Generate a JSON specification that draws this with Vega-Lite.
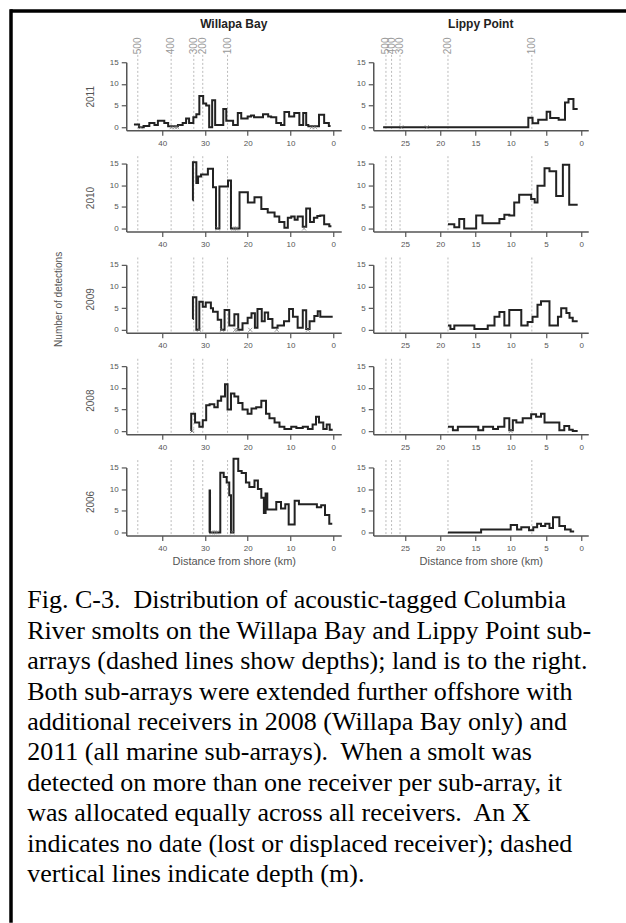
{
  "$schema": "https://vega.github.io/schema/vega-lite/v6.json",
  "background": "white",
  "padding": {"left": 8, "top": 8, "right": 0, "bottom": 0},
  "datasets": {
    "depthW": [{"km": 45.7, "depth": "500"}, {"km": 37.9, "depth": "400"}, {"km": 32.6, "depth": "300"}, {"km": 30.5, "depth": "200"}, {"km": 24.7, "depth": "100"}],
    "depthL": [{"km": 27.7, "depth": "500"}, {"km": 26.9, "depth": "400"}, {"km": 25.7, "depth": "300"}, {"km": 18.9, "depth": "200"}, {"km": 7.0, "depth": "100"}],
    "W2011": [{"km":46.6,"n":0.6},{"km":45.4,"n":0},{"km":44.3,"n":0.3},{"km":43.0,"n":1.0},{"km":41.8,"n":0.5},{"km":41.0,"n":1.5},{"km":39.5,"n":1.0},{"km":38.6,"n":0.2},{"km":36.3,"n":0.5},{"km":35.2,"n":1.0},{"km":34.4,"n":2.0},{"km":33.7,"n":1.0},{"km":32.7,"n":2.3},{"km":32.0,"n":3.0},{"km":31.3,"n":7.2},{"km":30.4,"n":5.5},{"km":29.7,"n":5.0},{"km":29.0,"n":0},{"km":28.3,"n":6.2},{"km":27.6,"n":0.5},{"km":25.7,"n":4.2},{"km":25.0,"n":1.5},{"km":23.4,"n":0.5},{"km":22.3,"n":3.3},{"km":21.5,"n":2.0},{"km":20.0,"n":2.5},{"km":19.2,"n":2.7},{"km":18.5,"n":2.3},{"km":16.4,"n":3.0},{"km":15.2,"n":2.5},{"km":14.5,"n":2.3},{"km":13.3,"n":1.0},{"km":12.2,"n":0.5},{"km":11.4,"n":3.5},{"km":10.3,"n":2.5},{"km":9.1,"n":3.3},{"km":7.9,"n":0.5},{"km":7.0,"n":3.3},{"km":6.3,"n":0.5},{"km":5.8,"n":0.2},{"km":3.3,"n":2.9},{"km":2.1,"n":1.0},{"km":1.0,"n":0.3},{"km":0.6,"n":0.3}],
    "L2011": [{"km":28.1,"n":0},{"km":7.5,"n":2.2},{"km":6.9,"n":0.9},{"km":6.1,"n":1.7},{"km":4.9,"n":3.6},{"km":4.4,"n":2.1},{"km":3.2,"n":1.7},{"km":2.3,"n":5.7},{"km":1.8,"n":6.5},{"km":1.1,"n":4.2},{"km":0.5,"n":4.2}],
    "W2010": [{"km":32.9,"n":6.5},{"km":32.8,"n":15.3},{"km":32.0,"n":10.5},{"km":31.6,"n":12.0},{"km":30.9,"n":12.5},{"km":29.3,"n":13.8},{"km":28.1,"n":9.5},{"km":27.4,"n":0},{"km":26.6,"n":9.7},{"km":24.6,"n":11.1},{"km":23.9,"n":0},{"km":21.9,"n":8.4},{"km":19.95,"n":6.0},{"km":18.4,"n":7.2},{"km":16.8,"n":4.5},{"km":15.3,"n":3.7},{"km":13.7,"n":2.8},{"km":12.6,"n":1.5},{"km":11.4,"n":0.2},{"km":10.6,"n":2.5},{"km":9.8,"n":2.8},{"km":9.0,"n":2.0},{"km":8.3,"n":2.8},{"km":7.1,"n":0.4},{"km":6.3,"n":4.6},{"km":5.4,"n":1.5},{"km":4.5,"n":2.5},{"km":3.7,"n":2.9},{"km":3.0,"n":3.0},{"km":2.1,"n":1.0},{"km":0.9,"n":0.5},{"km":0.4,"n":0.5}],
    "L2010": [{"km":18.9,"n":1.0},{"km":18.0,"n":0.3},{"km":17.3,"n":2.2},{"km":16.6,"n":0},{"km":14.9,"n":3.0},{"km":14.0,"n":1.2},{"km":11.6,"n":2.2},{"km":10.9,"n":3.2},{"km":10.2,"n":3.0},{"km":9.5,"n":6.0},{"km":8.8,"n":7.8},{"km":7.1,"n":6.8},{"km":6.6,"n":6.0},{"km":6.2,"n":9.9},{"km":5.2,"n":13.9},{"km":4.5,"n":13.2},{"km":3.55,"n":7.5},{"km":2.6,"n":14.7},{"km":1.7,"n":5.5},{"km":0.5,"n":5.5}],
    "W2009": [{"km":32.85,"n":2.5},{"km":32.8,"n":7.5},{"km":32.0,"n":0},{"km":31.3,"n":6.5},{"km":30.5,"n":5.3},{"km":29.8,"n":6.3},{"km":28.6,"n":5.0},{"km":28.1,"n":4.2},{"km":27.0,"n":2.3},{"km":26.2,"n":0},{"km":25.4,"n":4.6},{"km":24.3,"n":1.0},{"km":23.1,"n":3.6},{"km":22.2,"n":0},{"km":21.2,"n":1.5},{"km":20.0,"n":2.8},{"km":19.1,"n":3.8},{"km":18.3,"n":0.5},{"km":17.7,"n":4.8},{"km":16.7,"n":2.0},{"km":16.0,"n":4.0},{"km":15.2,"n":2.5},{"km":14.2,"n":0.5},{"km":13.0,"n":1.0},{"km":11.5,"n":2.0},{"km":10.3,"n":4.8},{"km":9.4,"n":3.0},{"km":8.3,"n":0.5},{"km":7.1,"n":4.5},{"km":6.3,"n":0.2},{"km":5.5,"n":2.0},{"km":4.4,"n":3.2},{"km":3.6,"n":4.3},{"km":3.0,"n":3.0},{"km":0.1,"n":3.0}],
    "L2009": [{"km":18.9,"n":1.0},{"km":18.55,"n":0.2},{"km":18.0,"n":1.0},{"km":15.15,"n":0.2},{"km":13.26,"n":1.0},{"km":12.3,"n":3.0},{"km":11.6,"n":4.1},{"km":10.9,"n":1.0},{"km":10.2,"n":4.6},{"km":8.5,"n":1.0},{"km":7.6,"n":1.8},{"km":6.9,"n":3.0},{"km":6.2,"n":5.8},{"km":5.7,"n":6.6},{"km":4.5,"n":1.0},{"km":3.3,"n":3.0},{"km":2.84,"n":5.0},{"km":2.1,"n":3.9},{"km":1.66,"n":2.8},{"km":1.2,"n":2.0},{"km":0.5,"n":2.0}],
    "W2008": [{"km":33.25,"n":0},{"km":33.2,"n":4.0},{"km":32.3,"n":2.0},{"km":31.3,"n":1.0},{"km":30.5,"n":2.5},{"km":29.7,"n":6.0},{"km":28.9,"n":6.2},{"km":27.8,"n":5.5},{"km":27.0,"n":7.0},{"km":26.2,"n":8.0},{"km":25.3,"n":10.8},{"km":24.7,"n":5.0},{"km":23.9,"n":8.7},{"km":23.1,"n":8.0},{"km":22.2,"n":6.5},{"km":21.2,"n":5.0},{"km":20.0,"n":4.0},{"km":19.1,"n":5.2},{"km":18.0,"n":5.5},{"km":16.8,"n":7.0},{"km":15.7,"n":4.0},{"km":14.9,"n":3.0},{"km":13.7,"n":2.0},{"km":12.55,"n":1.0},{"km":11.4,"n":0.5},{"km":9.8,"n":1.0},{"km":8.6,"n":0.7},{"km":7.1,"n":1.0},{"km":5.9,"n":0.5},{"km":4.8,"n":1.5},{"km":4.0,"n":3.3},{"km":3.3,"n":2.0},{"km":2.3,"n":0.5},{"km":1.5,"n":1.5},{"km":0.8,"n":0.3},{"km":0.1,"n":0.3}],
    "L2008": [{"km":18.9,"n":1.0},{"km":18.2,"n":0.2},{"km":17.5,"n":1.0},{"km":14.6,"n":0.2},{"km":13.9,"n":1.0},{"km":12.5,"n":0.5},{"km":11.8,"n":1.0},{"km":10.9,"n":3.0},{"km":10.2,"n":0.2},{"km":9.7,"n":2.5},{"km":9.2,"n":2.0},{"km":8.3,"n":3.0},{"km":7.1,"n":3.9},{"km":6.4,"n":3.3},{"km":5.7,"n":4.0},{"km":5.2,"n":2.0},{"km":3.1,"n":0.2},{"km":2.4,"n":1.2},{"km":1.7,"n":0.3},{"km":1.2,"n":0},{"km":0.5,"n":0}],
    "W2006": [{"km":28.95,"n":0},{"km":28.9,"n":9.7},{"km":28.8,"n":0},{"km":26.4,"n":13.8},{"km":25.6,"n":12.8},{"km":24.9,"n":11.5},{"km":24.3,"n":8.6},{"km":23.9,"n":0},{"km":23.3,"n":17.0},{"km":22.2,"n":14.2},{"km":21.4,"n":13.7},{"km":20.4,"n":11.5},{"km":19.6,"n":10.5},{"km":18.4,"n":12.0},{"km":17.6,"n":10.0},{"km":16.8,"n":8.0},{"km":16.2,"n":4.5},{"km":15.8,"n":9.0},{"km":15.4,"n":5.3},{"km":13.3,"n":7.0},{"km":12.2,"n":5.5},{"km":11.2,"n":6.5},{"km":10.4,"n":1.8},{"km":9.0,"n":7.3},{"km":8.0,"n":6.5},{"km":3.8,"n":5.8},{"km":2.8,"n":6.3},{"km":1.9,"n":4.0},{"km":0.9,"n":2.0},{"km":0.2,"n":2.0}],
    "L2006": [{"km":18.9,"n":0},{"km":14.2,"n":0.7},{"km":10.0,"n":1.7},{"km":9.1,"n":0.7},{"km":8.5,"n":1.2},{"km":7.4,"n":0.5},{"km":6.8,"n":1.2},{"km":6.25,"n":2.0},{"km":5.7,"n":1.5},{"km":5.1,"n":2.0},{"km":4.5,"n":1.0},{"km":4.0,"n":3.5},{"km":3.1,"n":1.5},{"km":2.3,"n":0.7},{"km":1.5,"n":0.2},{"km":1.0,"n":0.2}],
    "xW2011": [{"km":45.0},{"km":37.8},{"km":37.0},{"km":36.5},{"km":5.0},{"km":4.2}],
    "xL2011": [{"km":25.5},{"km":21.9}],
    "xW2010": [{"km":27.0},{"km":23.3},{"km":22.9},{"km":22.5},{"km":6.8}],
    "xW2009": [{"km":31.4},{"km":26.0},{"km":22.9},{"km":22.4},{"km":19.4},{"km":13.2},{"km":5.9}],
    "xW2008": [{"km":33.0}],
    "xL2008": [{"km":10.0}],
    "xW2006": [{"km":28.3},{"km":27.7},{"km":27.2},{"km":23.6}]
  },
  "bounds": "flush",
  "spacing": 0,
  "hconcat": [
    {
      "width": 1,
      "height": 910,
      "data": {"values": [{}]},
      "mark": {"type": "rule", "color": "black", "strokeWidth": 3.5, "strokeCap": "square"},
      "encoding": {"x": {"datum": 0, "type": "quantitative", "scale": {"domain": [0, 1]}, "axis": null}}
    },
    {
      "bounds": "flush",
      "spacing": 50.25,
      "vconcat": [
        {
          "width": 613,
          "height": 1,
          "data": {"values": [{}]},
          "mark": {"type": "rule", "color": "black", "strokeWidth": 3.5, "strokeCap": "square"},
          "encoding": {"y": {"datum": 1, "type": "quantitative", "scale": {"domain": [0, 1]}, "axis": null}}
        },
        {
          "bounds": "flush",
          "spacing": 113.25,
          "hconcat": [
            {"width": 1, "height": 1, "data": {"values": [{}]}, "mark": {"type": "point", "opacity": 0}, "encoding": {}},
            {
              "bounds": "flush",
              "columns": 2,
              "spacing": {"row": 33.3, "column": 32},
              "title": {
                "text": [
                  "Fig. C-3.\u00a0 Distribution of acoustic-tagged Columbia",
                  "River smolts on the Willapa Bay and Lippy Point sub-",
                  "arrays (dashed lines show depths); land is to the right.",
                  "Both sub-arrays were extended further offshore with",
                  "additional receivers in 2008 (Willapa Bay only) and",
                  "2011 (all marine sub-arrays).\u00a0 When a smolt was",
                  "detected on more than one receiver per sub-array, it",
                  "was allocated equally across all receivers.\u00a0 An X",
                  "indicates no date (lost or displaced receiver); dashed",
                  "vertical lines indicate depth (m)."
                ],
                "orient": "bottom", "anchor": "start", "frame": "group", "dx": -99, "offset": 42,
                "font": "Liberation Serif", "fontSize": 26, "fontWeight": "normal", "color": "#000000",
                "lineHeight": 30.4, "baseline": "alphabetic", "align": "left"
              },
              "concat": [
                {
                  "width": 215, "height": 68,
                  "title": {"text": "Willapa Bay", "fontSize": 12, "fontWeight": "bold", "color": "#222222", "offset": -2.5, "baseline": "alphabetic", "anchor": "middle", "frame": "group", "font": "Liberation Sans"},
                  "layer": [
                    {"data": {"name": "depthW"}, "mark": {"type": "rule", "color": "#bbbbbb", "strokeWidth": 1, "strokeDash": [2, 2]},
                     "encoding": {"x": {"field": "km", "type": "quantitative", "scale": {"domain": [-1.9, 48.4], "reverse": true, "nice": false, "zero": false}, "axis": {"values": [0, 10, 20, 30, 40], "title": null}}, "y": {"datum": 16.7, "type": "quantitative", "scale": {"domain": [-0.7, 15], "nice": false, "zero": false}, "axis": {"values": [0, 5, 10, 15], "title": "2011", "titlePadding": 13.5}}, "y2": {"datum": -0.7}}},
                    {"data": {"name": "depthW"}, "mark": {"type": "text", "angle": 270, "align": "left", "baseline": "middle", "fontSize": 10, "color": "#999999"},
                     "encoding": {"x": {"field": "km", "type": "quantitative", "scale": {"domain": [-1.9, 48.4], "reverse": true, "nice": false, "zero": false}, "axis": {"values": [0, 10, 20, 30, 40], "title": null}}, "y": {"datum": 16.85, "type": "quantitative", "scale": {"domain": [-0.7, 15], "nice": false, "zero": false}, "axis": {"values": [0, 5, 10, 15], "title": "2011", "titlePadding": 13.5}}, "text": {"field": "depth"}}},
                    {"data": {"name": "W2011"}, "mark": {"type": "line", "interpolate": "step-after", "color": "#222222", "strokeWidth": 2},
                     "encoding": {"x": {"field": "km", "type": "quantitative", "scale": {"domain": [-1.9, 48.4], "reverse": true, "nice": false, "zero": false}, "axis": {"values": [0, 10, 20, 30, 40], "title": null}}, "y": {"field": "n", "type": "quantitative", "scale": {"domain": [-0.7, 15], "nice": false, "zero": false}, "axis": {"values": [0, 5, 10, 15], "title": "2011", "titlePadding": 13.5}}, "order": {"field": "km", "sort": "descending"}}},
                    {"data": {"name": "xW2011"}, "mark": {"type": "point", "shape": "M-1,-1L1,1M-1,1L1,-1", "size": 16, "color": "#777777", "strokeWidth": 1, "filled": false},
                     "encoding": {"x": {"field": "km", "type": "quantitative", "scale": {"domain": [-1.9, 48.4], "reverse": true, "nice": false, "zero": false}, "axis": {"values": [0, 10, 20, 30, 40], "title": null}}, "y": {"datum": 0, "type": "quantitative", "scale": {"domain": [-0.7, 15], "nice": false, "zero": false}, "axis": {"values": [0, 5, 10, 15], "title": "2011", "titlePadding": 13.5}}}}
                  ]
                },
                {
                  "width": 215, "height": 68,
                  "title": {"text": "Lippy Point", "fontSize": 12, "fontWeight": "bold", "color": "#222222", "offset": -2.5, "baseline": "alphabetic", "anchor": "middle", "frame": "group", "font": "Liberation Sans"},
                  "layer": [
                    {"data": {"name": "depthL"}, "mark": {"type": "rule", "color": "#bbbbbb", "strokeWidth": 1, "strokeDash": [2, 2]},
                     "encoding": {"x": {"field": "km", "type": "quantitative", "scale": {"domain": [-1.0, 29.5], "reverse": true, "nice": false, "zero": false}, "axis": {"values": [0, 5, 10, 15, 20, 25], "title": null}}, "y": {"datum": 16.7, "type": "quantitative", "scale": {"domain": [-0.7, 15], "nice": false, "zero": false}, "axis": {"values": [0, 5, 10, 15], "title": null}}, "y2": {"datum": -0.7}}},
                    {"data": {"name": "depthL"}, "mark": {"type": "text", "angle": 270, "align": "left", "baseline": "middle", "fontSize": 10, "color": "#999999"},
                     "encoding": {"x": {"field": "km", "type": "quantitative", "scale": {"domain": [-1.0, 29.5], "reverse": true, "nice": false, "zero": false}, "axis": {"values": [0, 5, 10, 15, 20, 25], "title": null}}, "y": {"datum": 16.85, "type": "quantitative", "scale": {"domain": [-0.7, 15], "nice": false, "zero": false}, "axis": {"values": [0, 5, 10, 15], "title": null}}, "text": {"field": "depth"}}},
                    {"data": {"name": "L2011"}, "mark": {"type": "line", "interpolate": "step-after", "color": "#222222", "strokeWidth": 2},
                     "encoding": {"x": {"field": "km", "type": "quantitative", "scale": {"domain": [-1.0, 29.5], "reverse": true, "nice": false, "zero": false}, "axis": {"values": [0, 5, 10, 15, 20, 25], "title": null}}, "y": {"field": "n", "type": "quantitative", "scale": {"domain": [-0.7, 15], "nice": false, "zero": false}, "axis": {"values": [0, 5, 10, 15], "title": null}}, "order": {"field": "km", "sort": "descending"}}},
                    {"data": {"name": "xL2011"}, "mark": {"type": "point", "shape": "M-1,-1L1,1M-1,1L1,-1", "size": 16, "color": "#777777", "strokeWidth": 1, "filled": false},
                     "encoding": {"x": {"field": "km", "type": "quantitative", "scale": {"domain": [-1.0, 29.5], "reverse": true, "nice": false, "zero": false}, "axis": {"values": [0, 5, 10, 15, 20, 25], "title": null}}, "y": {"datum": 0, "type": "quantitative", "scale": {"domain": [-0.7, 15], "nice": false, "zero": false}, "axis": {"values": [0, 5, 10, 15], "title": null}}}}
                  ]
                },
                {
                  "width": 215, "height": 68,
                  "layer": [
                    {"data": {"name": "depthW"}, "mark": {"type": "rule", "color": "#bbbbbb", "strokeWidth": 1, "strokeDash": [2, 2]},
                     "encoding": {"x": {"field": "km", "type": "quantitative", "scale": {"domain": [-1.9, 48.4], "reverse": true, "nice": false, "zero": false}, "axis": {"values": [0, 10, 20, 30, 40], "title": null}}, "y": {"datum": 16.7, "type": "quantitative", "scale": {"domain": [-0.7, 15], "nice": false, "zero": false}, "axis": {"values": [0, 5, 10, 15], "title": "2010", "titlePadding": 13.5}}, "y2": {"datum": -0.7}}},
                    {"data": {"name": "W2010"}, "mark": {"type": "line", "interpolate": "step-after", "color": "#222222", "strokeWidth": 2},
                     "encoding": {"x": {"field": "km", "type": "quantitative", "scale": {"domain": [-1.9, 48.4], "reverse": true, "nice": false, "zero": false}, "axis": {"values": [0, 10, 20, 30, 40], "title": null}}, "y": {"field": "n", "type": "quantitative", "scale": {"domain": [-0.7, 15], "nice": false, "zero": false}, "axis": {"values": [0, 5, 10, 15], "title": "2010", "titlePadding": 13.5}}, "order": {"field": "km", "sort": "descending"}}},
                    {"data": {"name": "xW2010"}, "mark": {"type": "point", "shape": "M-1,-1L1,1M-1,1L1,-1", "size": 16, "color": "#777777", "strokeWidth": 1, "filled": false},
                     "encoding": {"x": {"field": "km", "type": "quantitative", "scale": {"domain": [-1.9, 48.4], "reverse": true, "nice": false, "zero": false}, "axis": {"values": [0, 10, 20, 30, 40], "title": null}}, "y": {"datum": 0, "type": "quantitative", "scale": {"domain": [-0.7, 15], "nice": false, "zero": false}, "axis": {"values": [0, 5, 10, 15], "title": "2010", "titlePadding": 13.5}}}}
                  ]
                },
                {
                  "width": 215, "height": 68,
                  "layer": [
                    {"data": {"name": "depthL"}, "mark": {"type": "rule", "color": "#bbbbbb", "strokeWidth": 1, "strokeDash": [2, 2]},
                     "encoding": {"x": {"field": "km", "type": "quantitative", "scale": {"domain": [-1.0, 29.5], "reverse": true, "nice": false, "zero": false}, "axis": {"values": [0, 5, 10, 15, 20, 25], "title": null}}, "y": {"datum": 16.7, "type": "quantitative", "scale": {"domain": [-0.7, 15], "nice": false, "zero": false}, "axis": {"values": [0, 5, 10, 15], "title": null}}, "y2": {"datum": -0.7}}},
                    {"data": {"name": "L2010"}, "mark": {"type": "line", "interpolate": "step-after", "color": "#222222", "strokeWidth": 2},
                     "encoding": {"x": {"field": "km", "type": "quantitative", "scale": {"domain": [-1.0, 29.5], "reverse": true, "nice": false, "zero": false}, "axis": {"values": [0, 5, 10, 15, 20, 25], "title": null}}, "y": {"field": "n", "type": "quantitative", "scale": {"domain": [-0.7, 15], "nice": false, "zero": false}, "axis": {"values": [0, 5, 10, 15], "title": null}}, "order": {"field": "km", "sort": "descending"}}}
                  ]
                },
                {
                  "width": 215, "height": 68,
                  "layer": [
                    {"data": {"name": "depthW"}, "mark": {"type": "rule", "color": "#bbbbbb", "strokeWidth": 1, "strokeDash": [2, 2]},
                     "encoding": {"x": {"field": "km", "type": "quantitative", "scale": {"domain": [-1.9, 48.4], "reverse": true, "nice": false, "zero": false}, "axis": {"values": [0, 10, 20, 30, 40], "title": null}}, "y": {"datum": 16.7, "type": "quantitative", "scale": {"domain": [-0.7, 15], "nice": false, "zero": false}, "axis": {"values": [0, 5, 10, 15], "title": ["Number of detections", "2009"], "titlePadding": 13.5, "titleLineHeight": 32}}, "y2": {"datum": -0.7}}},
                    {"data": {"name": "W2009"}, "mark": {"type": "line", "interpolate": "step-after", "color": "#222222", "strokeWidth": 2},
                     "encoding": {"x": {"field": "km", "type": "quantitative", "scale": {"domain": [-1.9, 48.4], "reverse": true, "nice": false, "zero": false}, "axis": {"values": [0, 10, 20, 30, 40], "title": null}}, "y": {"field": "n", "type": "quantitative", "scale": {"domain": [-0.7, 15], "nice": false, "zero": false}, "axis": {"values": [0, 5, 10, 15], "title": ["Number of detections", "2009"], "titlePadding": 13.5, "titleLineHeight": 32}}, "order": {"field": "km", "sort": "descending"}}},
                    {"data": {"name": "xW2009"}, "mark": {"type": "point", "shape": "M-1,-1L1,1M-1,1L1,-1", "size": 16, "color": "#777777", "strokeWidth": 1, "filled": false},
                     "encoding": {"x": {"field": "km", "type": "quantitative", "scale": {"domain": [-1.9, 48.4], "reverse": true, "nice": false, "zero": false}, "axis": {"values": [0, 10, 20, 30, 40], "title": null}}, "y": {"datum": 0, "type": "quantitative", "scale": {"domain": [-0.7, 15], "nice": false, "zero": false}, "axis": {"values": [0, 5, 10, 15], "title": ["Number of detections", "2009"], "titlePadding": 13.5, "titleLineHeight": 32}}}}
                  ]
                },
                {
                  "width": 215, "height": 68,
                  "layer": [
                    {"data": {"name": "depthL"}, "mark": {"type": "rule", "color": "#bbbbbb", "strokeWidth": 1, "strokeDash": [2, 2]},
                     "encoding": {"x": {"field": "km", "type": "quantitative", "scale": {"domain": [-1.0, 29.5], "reverse": true, "nice": false, "zero": false}, "axis": {"values": [0, 5, 10, 15, 20, 25], "title": null}}, "y": {"datum": 16.7, "type": "quantitative", "scale": {"domain": [-0.7, 15], "nice": false, "zero": false}, "axis": {"values": [0, 5, 10, 15], "title": null}}, "y2": {"datum": -0.7}}},
                    {"data": {"name": "L2009"}, "mark": {"type": "line", "interpolate": "step-after", "color": "#222222", "strokeWidth": 2},
                     "encoding": {"x": {"field": "km", "type": "quantitative", "scale": {"domain": [-1.0, 29.5], "reverse": true, "nice": false, "zero": false}, "axis": {"values": [0, 5, 10, 15, 20, 25], "title": null}}, "y": {"field": "n", "type": "quantitative", "scale": {"domain": [-0.7, 15], "nice": false, "zero": false}, "axis": {"values": [0, 5, 10, 15], "title": null}}, "order": {"field": "km", "sort": "descending"}}}
                  ]
                },
                {
                  "width": 215, "height": 68,
                  "layer": [
                    {"data": {"name": "depthW"}, "mark": {"type": "rule", "color": "#bbbbbb", "strokeWidth": 1, "strokeDash": [2, 2]},
                     "encoding": {"x": {"field": "km", "type": "quantitative", "scale": {"domain": [-1.9, 48.4], "reverse": true, "nice": false, "zero": false}, "axis": {"values": [0, 10, 20, 30, 40], "title": null}}, "y": {"datum": 16.7, "type": "quantitative", "scale": {"domain": [-0.7, 15], "nice": false, "zero": false}, "axis": {"values": [0, 5, 10, 15], "title": "2008", "titlePadding": 13.5}}, "y2": {"datum": -0.7}}},
                    {"data": {"name": "W2008"}, "mark": {"type": "line", "interpolate": "step-after", "color": "#222222", "strokeWidth": 2},
                     "encoding": {"x": {"field": "km", "type": "quantitative", "scale": {"domain": [-1.9, 48.4], "reverse": true, "nice": false, "zero": false}, "axis": {"values": [0, 10, 20, 30, 40], "title": null}}, "y": {"field": "n", "type": "quantitative", "scale": {"domain": [-0.7, 15], "nice": false, "zero": false}, "axis": {"values": [0, 5, 10, 15], "title": "2008", "titlePadding": 13.5}}, "order": {"field": "km", "sort": "descending"}}},
                    {"data": {"name": "xW2008"}, "mark": {"type": "point", "shape": "M-1,-1L1,1M-1,1L1,-1", "size": 16, "color": "#777777", "strokeWidth": 1, "filled": false},
                     "encoding": {"x": {"field": "km", "type": "quantitative", "scale": {"domain": [-1.9, 48.4], "reverse": true, "nice": false, "zero": false}, "axis": {"values": [0, 10, 20, 30, 40], "title": null}}, "y": {"datum": 0, "type": "quantitative", "scale": {"domain": [-0.7, 15], "nice": false, "zero": false}, "axis": {"values": [0, 5, 10, 15], "title": "2008", "titlePadding": 13.5}}}}
                  ]
                },
                {
                  "width": 215, "height": 68,
                  "layer": [
                    {"data": {"name": "depthL"}, "mark": {"type": "rule", "color": "#bbbbbb", "strokeWidth": 1, "strokeDash": [2, 2]},
                     "encoding": {"x": {"field": "km", "type": "quantitative", "scale": {"domain": [-1.0, 29.5], "reverse": true, "nice": false, "zero": false}, "axis": {"values": [0, 5, 10, 15, 20, 25], "title": null}}, "y": {"datum": 16.7, "type": "quantitative", "scale": {"domain": [-0.7, 15], "nice": false, "zero": false}, "axis": {"values": [0, 5, 10, 15], "title": null}}, "y2": {"datum": -0.7}}},
                    {"data": {"name": "L2008"}, "mark": {"type": "line", "interpolate": "step-after", "color": "#222222", "strokeWidth": 2},
                     "encoding": {"x": {"field": "km", "type": "quantitative", "scale": {"domain": [-1.0, 29.5], "reverse": true, "nice": false, "zero": false}, "axis": {"values": [0, 5, 10, 15, 20, 25], "title": null}}, "y": {"field": "n", "type": "quantitative", "scale": {"domain": [-0.7, 15], "nice": false, "zero": false}, "axis": {"values": [0, 5, 10, 15], "title": null}}, "order": {"field": "km", "sort": "descending"}}},
                    {"data": {"name": "xL2008"}, "mark": {"type": "point", "shape": "M-1,-1L1,1M-1,1L1,-1", "size": 16, "color": "#777777", "strokeWidth": 1, "filled": false},
                     "encoding": {"x": {"field": "km", "type": "quantitative", "scale": {"domain": [-1.0, 29.5], "reverse": true, "nice": false, "zero": false}, "axis": {"values": [0, 5, 10, 15, 20, 25], "title": null}}, "y": {"datum": 0, "type": "quantitative", "scale": {"domain": [-0.7, 15], "nice": false, "zero": false}, "axis": {"values": [0, 5, 10, 15], "title": null}}}}
                  ]
                },
                {
                  "width": 215, "height": 68,
                  "layer": [
                    {"data": {"name": "depthW"}, "mark": {"type": "rule", "color": "#bbbbbb", "strokeWidth": 1, "strokeDash": [2, 2]},
                     "encoding": {"x": {"field": "km", "type": "quantitative", "scale": {"domain": [-1.9, 48.4], "reverse": true, "nice": false, "zero": false}, "axis": {"values": [0, 10, 20, 30, 40], "title": "Distance from shore (km)", "titleFontSize": 11, "titlePadding": 3}}, "y": {"datum": 16.7, "type": "quantitative", "scale": {"domain": [-0.7, 15], "nice": false, "zero": false}, "axis": {"values": [0, 5, 10, 15], "title": "2006", "titlePadding": 13.5}}, "y2": {"datum": -0.7}}},
                    {"data": {"name": "W2006"}, "mark": {"type": "line", "interpolate": "step-after", "color": "#222222", "strokeWidth": 2},
                     "encoding": {"x": {"field": "km", "type": "quantitative", "scale": {"domain": [-1.9, 48.4], "reverse": true, "nice": false, "zero": false}, "axis": {"values": [0, 10, 20, 30, 40], "title": "Distance from shore (km)", "titleFontSize": 11, "titlePadding": 3}}, "y": {"field": "n", "type": "quantitative", "scale": {"domain": [-0.7, 15], "nice": false, "zero": false}, "axis": {"values": [0, 5, 10, 15], "title": "2006", "titlePadding": 13.5}}, "order": {"field": "km", "sort": "descending"}}},
                    {"data": {"name": "xW2006"}, "mark": {"type": "point", "shape": "M-1,-1L1,1M-1,1L1,-1", "size": 16, "color": "#777777", "strokeWidth": 1, "filled": false},
                     "encoding": {"x": {"field": "km", "type": "quantitative", "scale": {"domain": [-1.9, 48.4], "reverse": true, "nice": false, "zero": false}, "axis": {"values": [0, 10, 20, 30, 40], "title": "Distance from shore (km)", "titleFontSize": 11, "titlePadding": 3}}, "y": {"datum": 0, "type": "quantitative", "scale": {"domain": [-0.7, 15], "nice": false, "zero": false}, "axis": {"values": [0, 5, 10, 15], "title": "2006", "titlePadding": 13.5}}}}
                  ]
                },
                {
                  "width": 215, "height": 68,
                  "layer": [
                    {"data": {"name": "depthL"}, "mark": {"type": "rule", "color": "#bbbbbb", "strokeWidth": 1, "strokeDash": [2, 2]},
                     "encoding": {"x": {"field": "km", "type": "quantitative", "scale": {"domain": [-1.0, 29.5], "reverse": true, "nice": false, "zero": false}, "axis": {"values": [0, 5, 10, 15, 20, 25], "title": "Distance from shore (km)", "titleFontSize": 11, "titlePadding": 3}}, "y": {"datum": 16.7, "type": "quantitative", "scale": {"domain": [-0.7, 15], "nice": false, "zero": false}, "axis": {"values": [0, 5, 10, 15], "title": null}}, "y2": {"datum": -0.7}}},
                    {"data": {"name": "L2006"}, "mark": {"type": "line", "interpolate": "step-after", "color": "#222222", "strokeWidth": 2},
                     "encoding": {"x": {"field": "km", "type": "quantitative", "scale": {"domain": [-1.0, 29.5], "reverse": true, "nice": false, "zero": false}, "axis": {"values": [0, 5, 10, 15, 20, 25], "title": "Distance from shore (km)", "titleFontSize": 11, "titlePadding": 3}}, "y": {"field": "n", "type": "quantitative", "scale": {"domain": [-0.7, 15], "nice": false, "zero": false}, "axis": {"values": [0, 5, 10, 15], "title": null}}, "order": {"field": "km", "sort": "descending"}}}
                  ]
                }
              ]
            }
          ]
        }
      ]
    }
  ],
  "config": {
    "view": {"stroke": null},
    "font": "Liberation Sans",
    "axis": {"grid": false, "domainColor": "#555555", "domainWidth": 1.5, "tickColor": "#555555", "tickWidth": 1.2, "tickSize": 5, "labelColor": "#555555", "labelFontSize": 8, "labelFont": "Liberation Sans", "labelOverlap": false, "labelFlush": false, "titleFont": "Liberation Sans", "titleFontWeight": "normal", "titleColor": "#555555", "titleFontSize": 10},
    "axisX": {"labelPadding": 4},
    "axisY": {"labelPadding": 3}
  }
}
